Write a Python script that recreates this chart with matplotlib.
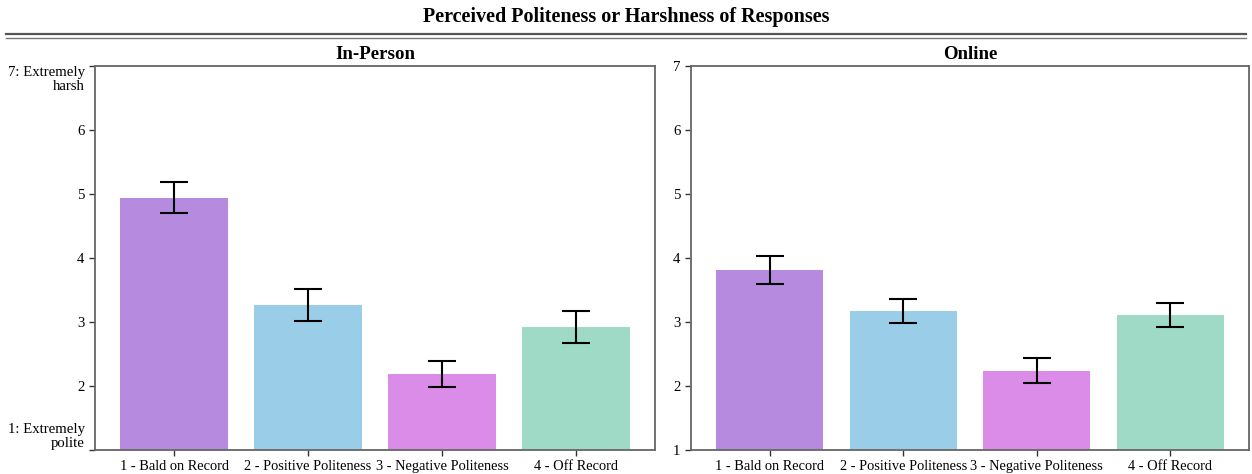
import numpy as np
import matplotlib
matplotlib.use('Agg')
from matplotlib import pyplot as plt
from matplotlib.lines import Line2D

plt.rcParams['font.family'] = ['Liberation Serif', 'DejaVu Serif']

categories = ['1 - Bald on Record', '2 - Positive Politeness',
              '3 - Negative Politeness', '4 - Off Record']
colors = ['#b68ade', '#9acee8', '#db8be8', '#9edac6']

in_person_mean = [4.94, 3.27, 2.19, 2.92]
in_person_err = [0.24, 0.25, 0.20, 0.25]
online_mean = [3.81, 3.17, 2.24, 3.11]
online_err = [0.22, 0.19, 0.19, 0.19]

left_ticklabels = ['1: Extremely\npolite', '2', '3', '4', '5', '6', '7: Extremely\nharsh']
right_ticklabels = ['1', '2', '3', '4', '5', '6', '7']

fig = plt.figure(figsize=(12.52, 4.74), dpi=100)
ax1 = fig.add_axes([95 / 1252, 1 - 450 / 474, 560 / 1252, 384 / 474])
ax2 = fig.add_axes([691 / 1252, 1 - 450 / 474, 558 / 1252, 384 / 474])

def draw(ax, means, errs, title, ticklabels):
    x = np.arange(len(categories))
    ax.bar(x, np.array(means) - 1, bottom=1, width=0.8, color=colors)
    ax.errorbar(x, means, yerr=errs, fmt='none', ecolor='black',
                elinewidth=1.5, capsize=10, capthick=1.5)
    ax.set_xlim(-0.59, 3.59)
    ax.set_ylim(1, 7)
    ax.set_xticks(x)
    ax.set_xticklabels(categories, fontsize=10.4)
    ax.set_yticks(range(1, 8))
    ax.set_yticklabels(ticklabels, fontsize=10.6)
    ax.set_title(title, fontsize=13.6, fontweight='bold', pad=5)
    for s in ax.spines.values():
        s.set_color('#666666')
        s.set_linewidth(1.3)
    ax.tick_params(colors='#333333', labelcolor='black', length=4, width=1)

draw(ax1, in_person_mean, in_person_err, 'In-Person', left_ticklabels)
draw(ax2, online_mean, online_err, 'Online', right_ticklabels)

labs = ax1.get_yticklabels()
labs[0].set_va('bottom')
labs[-1].set_va('top')
for lab in labs:
    lab.set_ha('right')
    lab.set_multialignment('right')
    lab.set_linespacing(1.1)

fig.text(0.5, 1 - 17 / 474, 'Perceived Politeness or Harshness of Responses',
         ha='center', va='center', fontsize=14.5, fontweight='bold')
fig.add_artist(Line2D([6 / 1252, 1246 / 1252], [1 - 34 / 474] * 2,
                      color='#555555', lw=1.6))
fig.add_artist(Line2D([6 / 1252, 1246 / 1252], [1 - 37.5 / 474] * 2,
                      color='#777777', lw=1.0))

fig.savefig('out.png', dpi=100)
